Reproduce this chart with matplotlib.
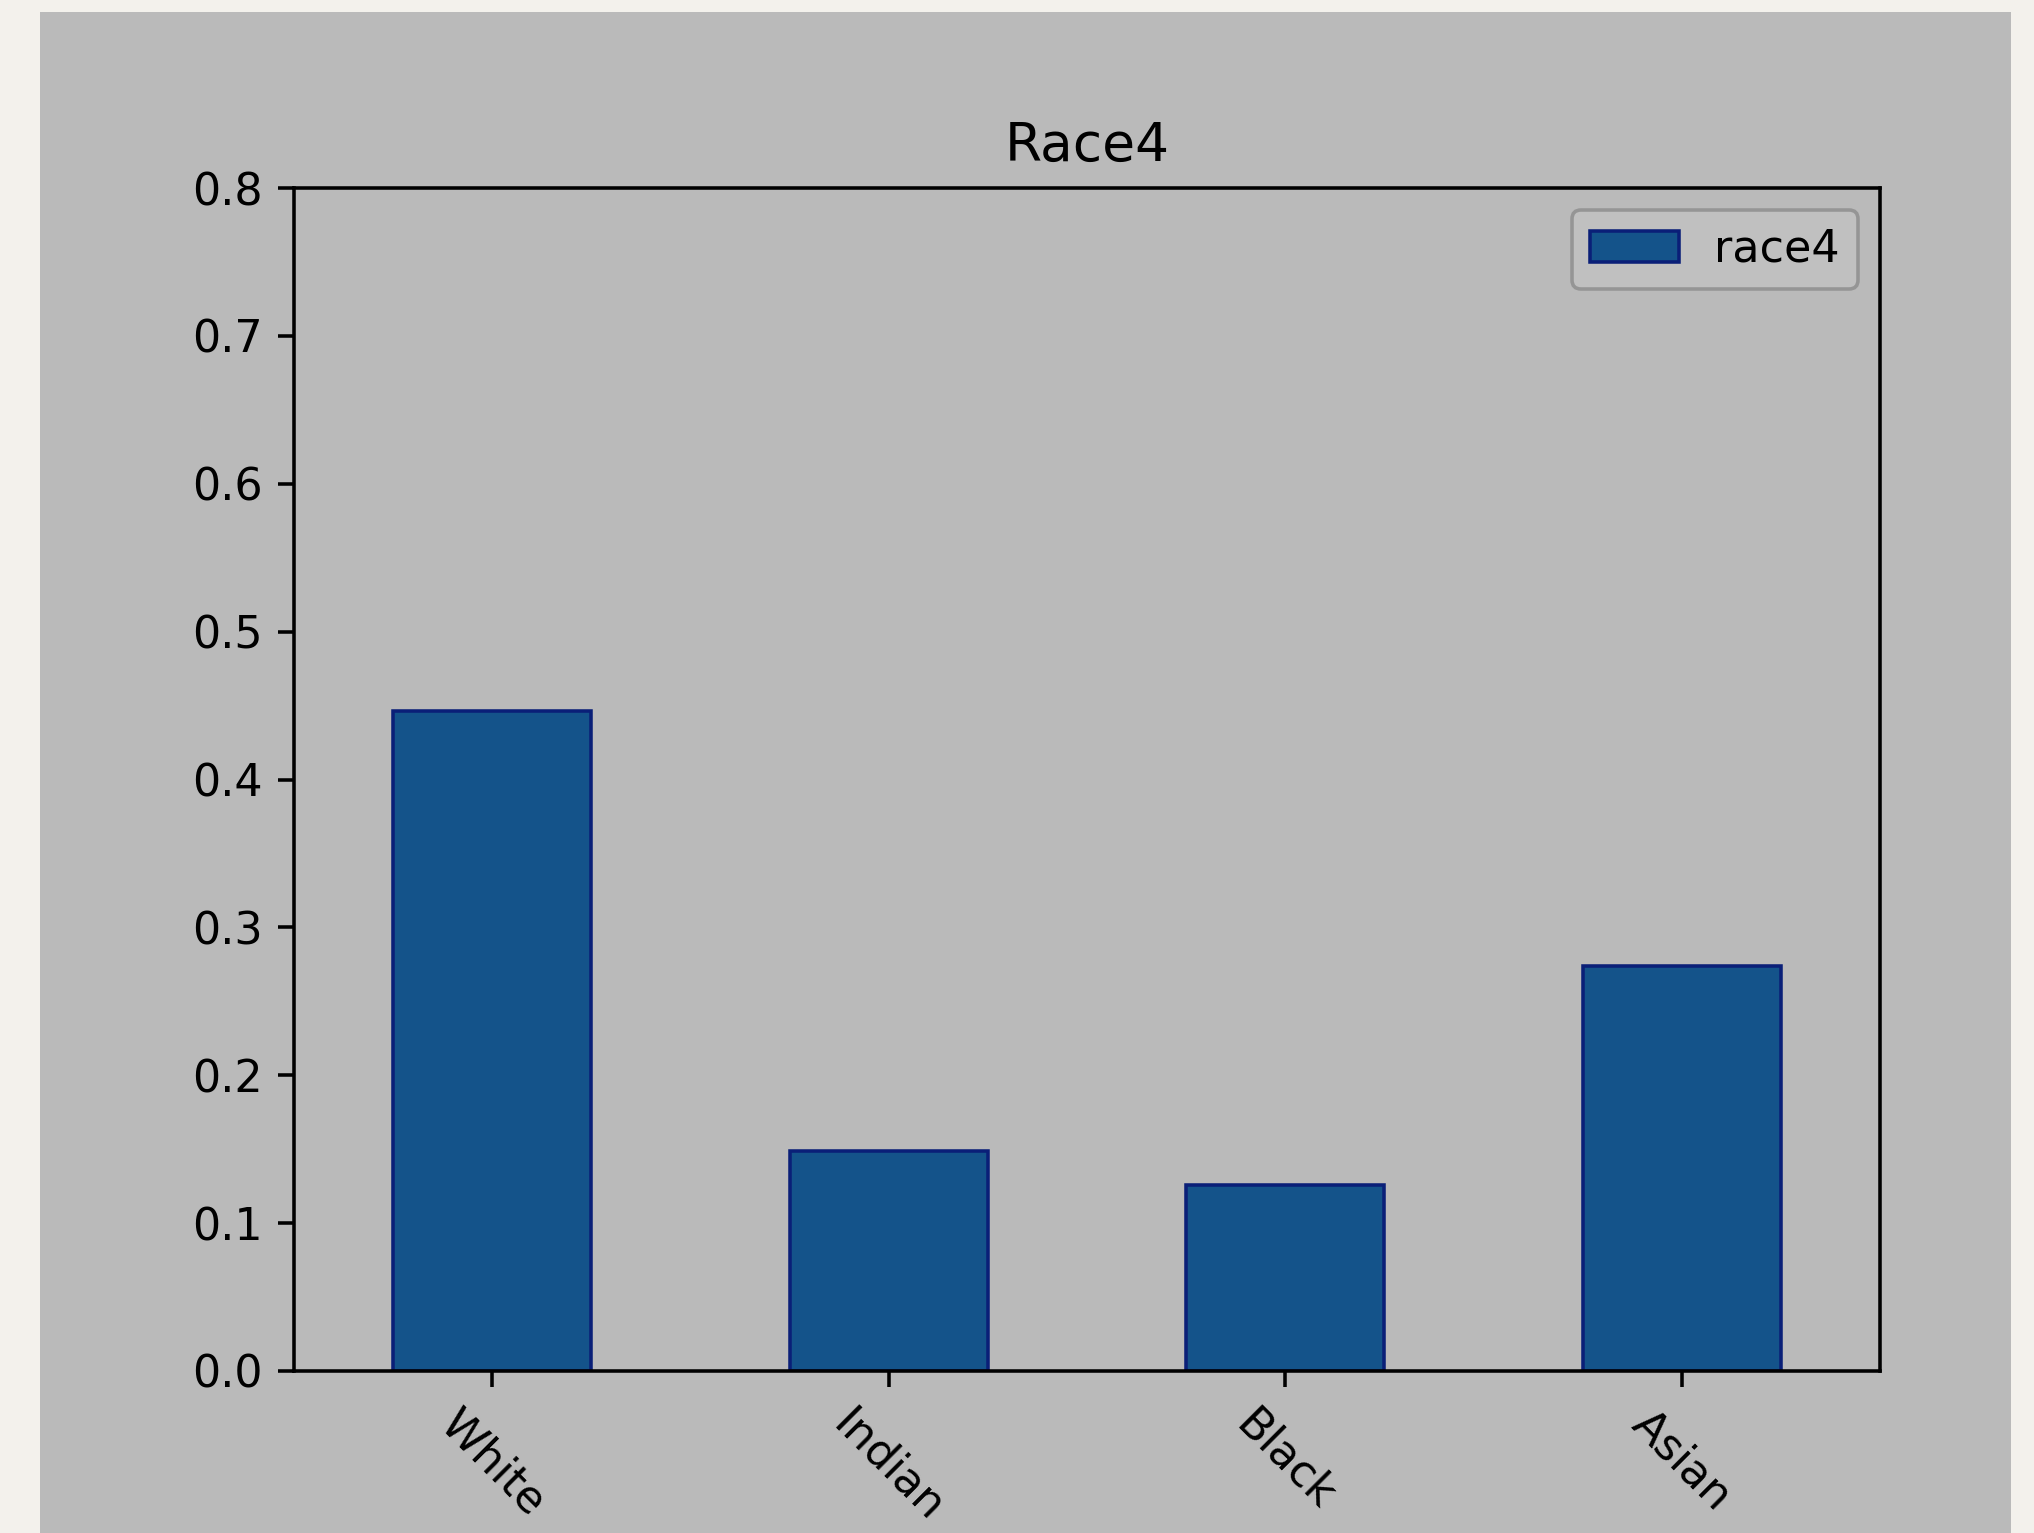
import matplotlib
matplotlib.use("Agg")
import matplotlib.pyplot as plt
from matplotlib.patches import Rectangle

categories = ["White", "Indian", "Black", "Asian"]
race4 = [0.446, 0.149, 0.126, 0.274]
yticks = [0.0, 0.1, 0.2, 0.3, 0.4, 0.5, 0.6, 0.7, 0.8]

W, H = 2034, 1533
DPI = 320
fig = plt.figure(figsize=(W / DPI, H / DPI), dpi=DPI)
fig.patch.set_facecolor("#f3f1ec")

# grey panel holding the plot, drawn beneath the axes
panel = Rectangle((40 / W, 0), (2011 - 40) / W, (H - 12) / H,
                  transform=fig.transFigure, facecolor="#bababa",
                  edgecolor="none", zorder=-10)
fig.patches.append(panel)

ax = fig.add_axes([294 / W, (H - 1371) / H, (1880 - 294) / W, (1371 - 188) / H])
ax.set_zorder(1)
ax.set_facecolor("#bababa")

x = range(len(categories))
ax.bar(x, race4, width=0.5, color="#14538a", edgecolor="#0a1f78",
       linewidth=0.8, label="race4")

ax.set_xlim(-0.5, len(categories) - 0.5)
ax.set_ylim(0, 0.8)
ax.set_yticks(yticks)
ax.set_yticklabels([f"{v:.1f}" for v in yticks])
ax.set_xticks(list(x))
ax.set_xticklabels(categories, rotation=-45, ha="center")
ax.set_title("Race4", fontsize=12)

for s in ax.spines.values():
    s.set_color("black")
    s.set_linewidth(0.8)

leg = ax.legend(loc="upper right", fancybox=True, framealpha=1.0)
leg.get_frame().set_facecolor("#c0c0c0")
leg.get_frame().set_edgecolor("#959595")
leg.get_frame().set_linewidth(0.8)

fig.savefig("out.png", dpi=DPI, facecolor=fig.get_facecolor())
